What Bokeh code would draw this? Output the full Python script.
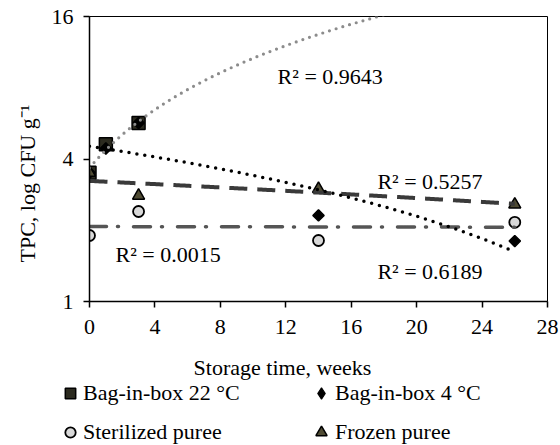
import numpy as np
from bokeh.plotting import figure
from bokeh.layouts import column
from bokeh.models import (FixedTicker, BasicTickFormatter, Label, Legend,
                          LegendItem, Range1d, Title)
from bokeh.embed import file_html
from bokeh.resources import INLINE

# ---- data ----
weeks_b22 = [0, 1, 3]
tpc_b22 = [3.50, 4.62, 5.68]
weeks_b4 = [0, 1, 3, 14, 26]
tpc_b4 = [3.50, 4.43, 5.68, 2.31, 1.80]
weeks_ster = [0, 3, 14, 26]
tpc_ster = [1.90, 2.40, 1.81, 2.16]
weeks_froz = [0, 3, 14, 26]
tpc_froz = [3.50, 2.80, 2.99, 2.57]
series_names = ["Bag-in-box 22 °C", "Bag-in-box 4 °C", "Sterilized puree", "Frozen puree"]
r2_texts = ["R² = 0.9643", "R² = 0.6189", "R² = 0.0015", "R² = 0.5257"]
x_ticks = [0, 4, 8, 12, 16, 20, 24, 28]
y_ticks = [1, 4, 16]

FONT = "Liberation Serif"
FS = "22px"

styles = [
    dict(marker="square", size=13, fill_color="#2b2a1f", line_color="#000000", line_width=1.5),
    dict(marker="square", angle=np.pi / 4, size=8, fill_color="#000000",
         line_color="#000000", line_width=1.5),
    dict(marker="circle", size=11, fill_color="#d9d9d9", line_color="#000000", line_width=1.8),
    dict(marker="triangle", size=12, fill_color="#4f4b33", line_color="#000000", line_width=1.5),
]
legend_styles = [dict(styles[0]),
                 dict(marker="diamond", size=12, fill_color="#000000",
                      line_color="#000000", line_width=1.2),
                 dict(styles[2]), dict(styles[3])]

p = figure(width=560, height=350, y_axis_type="log", output_backend="svg",
           toolbar_location=None, x_range=Range1d(0, 28), y_range=Range1d(1, 16),
           min_border_left=89, min_border_right=13, min_border_top=16,
           min_border_bottom=49)
p.background_fill_color = "white"
p.border_fill_color = "white"
p.outline_line_color = "#000000"
p.outline_line_width = 1
p.xgrid.visible = False
p.ygrid.visible = False

p.xaxis.ticker = FixedTicker(ticks=x_ticks)
p.yaxis.ticker = FixedTicker(ticks=y_ticks)
p.yaxis.formatter = BasicTickFormatter()
for ax in (p.xaxis, p.yaxis):
    ax.axis_line_color = "#000000"
    ax.axis_line_width = 1.5
    ax.major_tick_line_color = "#000000"
    ax.major_tick_line_width = 1.5
    ax.major_tick_in = 0
    ax.major_tick_out = 6
    ax.minor_tick_line_color = None
    ax.major_label_text_font = FONT
    ax.major_label_text_font_size = FS
    ax.major_label_text_color = "#000000"
p.xaxis.major_label_standoff = 12
p.yaxis.major_label_standoff = 10

# ---- markers (order: squares, diamonds, circles, triangles) ----
p.scatter(weeks_b22, tpc_b22, **styles[0])
p.scatter(weeks_b4, tpc_b4, **styles[1])
p.scatter(weeks_ster, tpc_ster, **styles[2])
p.scatter(weeks_froz, tpc_froz, **styles[3])

# ---- linear trendlines (fitted from the data) ----
xs = np.linspace(0, 26, 300)
fit_b22 = np.polyval(np.polyfit(weeks_b22, tpc_b22, 1), xs)
fit_b4 = np.polyval(np.polyfit(weeks_b4, tpc_b4, 1), xs)
fit_ster = np.polyval(np.polyfit(weeks_ster, tpc_ster, 1), xs)
fit_froz = np.polyval(np.polyfit(weeks_froz, tpc_froz, 1), xs)

p.line(xs, fit_froz, line_color="#3a3a3a", line_width=4, line_dash="18 10")
p.line(xs, fit_ster, line_color="#555555", line_width=3.5, line_dash="17 11 1 15",
       line_cap="round")
p.line(xs, fit_b4, line_color="#000000", line_width=3.5, line_dash="0 8",
       line_cap="round")
p.line(xs, fit_b22, line_color="#8c8c8c", line_width=3.2, line_dash="0 7",
       line_cap="round")

# ---- R² annotations ----
r2_pos = [(11.5, 8.95), (17.6, 1.34), (1.59, 1.58), (17.6, 3.22)]
for txt, (lx, ly) in zip(r2_texts, r2_pos):
    p.add_layout(Label(x=lx, y=ly, text=txt, text_font=FONT, text_font_size=FS,
                       text_color="#000000", text_baseline="alphabetic",
                       text_align="left"))

# ---- y axis title ----
p.add_layout(Title(text="TPC, log CFU g⁻¹", align="left", offset=39,
                   text_font=FONT, text_font_size=FS, text_font_style="normal",
                   text_color="#000000", standoff=17), "left")

# ---- bottom strip: x axis title + two-column legend ----
lg = figure(width=560, height=95, output_backend="svg", toolbar_location=None,
            x_range=Range1d(0, 1), y_range=Range1d(0, 1),
            x_axis_location=None, y_axis_location=None,
            min_border=0, min_border_left=0, min_border_right=0,
            min_border_top=0, min_border_bottom=0)
lg.frame_width = 560
lg.frame_height = 95
if "frame_align" in lg.properties():
    lg.frame_align = False
lg.grid.visible = False
lg.outline_line_color = None
lg.background_fill_color = "white"
lg.border_fill_color = "white"
# legend proxies (one point each, outside the visible range)
proxies = [lg.scatter([-10], [-10], **st) for st in legend_styles]

lg.add_layout(Label(x=282, y=78, x_units="screen", y_units="screen",
                    text="Storage time, weeks", text_font=FONT, text_font_size=FS,
                    text_align="center", text_baseline="middle", text_color="#000000"))


def make_legend(idx, loc, gsize, spacing):
    return Legend(items=[LegendItem(label=series_names[i], renderers=[proxies[i]]) for i in idx],
                  location=loc, orientation="vertical",
                  glyph_width=gsize, glyph_height=gsize, label_height=26,
                  label_standoff=0, spacing=spacing, padding=0, margin=0,
                  border_line_alpha=0, background_fill_alpha=0,
                  label_text_font=FONT, label_text_font_size=FS,
                  label_text_color="#000000")


lg.add_layout(make_legend([0, 2], (57, 0), 26, 13))
lg.add_layout(make_legend([1, 3], (307, -1), 28, 11))

layout = column(p, lg, spacing=0)
open("out.html", "w").write(file_html(layout, INLINE))
